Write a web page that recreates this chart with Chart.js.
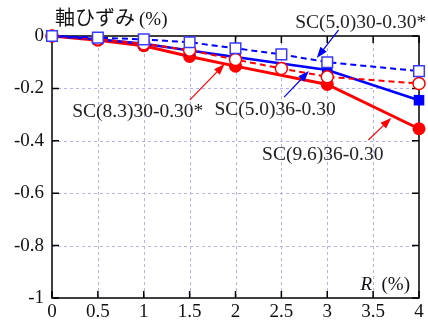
<!DOCTYPE html>
<html>
<head>
<meta charset="utf-8">
<script src="https://cdn.jsdelivr.net/npm/chart.js@4/dist/chart.umd.min.js"></script>
<style>
  html, body { margin: 0; padding: 0; background: #fff; }
  #wrap { width: 428px; height: 322px; }
</style>
</head>
<body>
<div id="wrap"><canvas id="c" width="428" height="322"></canvas></div>
<script>
// Drift ratio R (%) at each measured step
const rValues = [0, 0.5, 1, 1.5, 2, 2.5, 3, 4];

// Axial strain (%) for each specimen (null = no reading at that step)
const sc50_30 = [0, -0.006, -0.013, -0.024, -0.047, -0.070, -0.100, -0.134];
const sc50_36 = [0, -0.012, -0.030, -0.055, -0.080, null, -0.130, -0.245];
const sc83_30 = [0, -0.012, -0.030, -0.054, -0.090, -0.124, -0.156, -0.181];
const sc96_36 = [0, -0.016, -0.037, -0.078, -0.115, null, -0.185, -0.354];

// Tick values
const xTicks = [0, 0.5, 1, 1.5, 2, 2.5, 3, 3.5, 4];
const yTicks = [0, -0.2, -0.4, -0.6, -0.8, -1];

const BLUE = '#0000ff';
const RED = '#ff0000';
const SERIF = '"Liberation Serif", "Times New Roman", serif';

// Callouts: label text, label anchor and arrow tail/head, all in data units
const callouts = [
  { text: 'SC(5.0)30-0.30*', color: BLUE, tx: 2.65, ty: 0.05,  from: [3.124, 0.023],  to: [2.886, -0.084] },
  { text: 'SC(5.0)36-0.30',  color: BLUE, tx: 1.77, ty: -0.282, from: [2.530, -0.233], to: [2.800, -0.134] },
  { text: 'SC(8.3)30-0.30*', color: RED,  tx: 0.22, ty: -0.290, from: [1.503, -0.244], to: [1.881, -0.107] },
  { text: 'SC(9.6)36-0.30',  color: RED,  tx: 2.29, ty: -0.454, from: [3.449, -0.397], to: [3.697, -0.313] }
];

function pts(values) {
  return rValues.map((x, i) => ({ x: x, y: values[i] }));
}

// Grid, frame and inward ticks, drawn beneath the data
const framePlugin = {
  id: 'frame',
  beforeDatasetsDraw(chart) {
    const { ctx, chartArea: a, scales: { x, y } } = chart;
    ctx.save();
    ctx.strokeStyle = '#b4b4f4';
    ctx.lineWidth = 1;
    ctx.setLineDash([3, 3]);
    xTicks.slice(1, -1).forEach(v => {
      const px = Math.round(x.getPixelForValue(v)) + 0.5;
      ctx.beginPath(); ctx.moveTo(px, a.top); ctx.lineTo(px, a.bottom); ctx.stroke();
    });
    yTicks.slice(1, -1).forEach(v => {
      const py = Math.round(y.getPixelForValue(v)) + 0.5;
      ctx.beginPath(); ctx.moveTo(a.left, py); ctx.lineTo(a.right, py); ctx.stroke();
    });
    ctx.setLineDash([]);
    ctx.strokeStyle = '#000';
    ctx.lineWidth = 1.5;
    ctx.strokeRect(a.left, a.top, a.right - a.left, a.bottom - a.top);
    const t = 7;
    ctx.beginPath();
    xTicks.forEach(v => {
      const px = x.getPixelForValue(v);
      ctx.moveTo(px, a.bottom); ctx.lineTo(px, a.bottom - t);
      ctx.moveTo(px, a.top); ctx.lineTo(px, a.top + t);
    });
    yTicks.forEach(v => {
      const py = y.getPixelForValue(v);
      ctx.moveTo(a.left, py); ctx.lineTo(a.left + t, py);
      ctx.moveTo(a.right, py); ctx.lineTo(a.right - t, py);
    });
    ctx.stroke();
    ctx.restore();
  },
  afterDatasetsDraw(chart) {
    const { ctx, chartArea: a, scales: { x, y } } = chart;
    ctx.save();
    // axis titles
    ctx.fillStyle = '#111';
    ctx.textBaseline = 'alphabetic';
    ctx.textAlign = 'left';
    ctx.font = '20px "Noto Sans CJK JP", sans-serif';
    ctx.fillText('軸ひずみ', 55, 25);
    const w = ctx.measureText('軸ひずみ').width;
    ctx.font = '19px ' + SERIF;
    ctx.fillText('(%)', 55 + w + 4, 25);

    ctx.textAlign = 'right';
    ctx.font = '19px ' + SERIF;
    const pct = '(%)';
    ctx.fillText(pct, 410, 290);
    const pw = ctx.measureText('  ' + pct).width;
    ctx.font = 'italic 19px ' + SERIF;
    ctx.fillText('R', 410 - pw, 290);

    // callouts
    callouts.forEach(c => {
      const x1 = x.getPixelForValue(c.from[0]), y1 = y.getPixelForValue(c.from[1]);
      const x2 = x.getPixelForValue(c.to[0]), y2 = y.getPixelForValue(c.to[1]);
      const ang = Math.atan2(y2 - y1, x2 - x1);
      const hl = 11, hw = 4;
      ctx.strokeStyle = c.color;
      ctx.fillStyle = c.color;
      ctx.lineWidth = 1.2;
      ctx.beginPath();
      ctx.moveTo(x1, y1);
      ctx.lineTo(x2 - Math.cos(ang) * hl * 0.8, y2 - Math.sin(ang) * hl * 0.8);
      ctx.stroke();
      ctx.beginPath();
      ctx.moveTo(x2, y2);
      ctx.lineTo(x2 - Math.cos(ang) * hl - Math.sin(ang) * hw, y2 - Math.sin(ang) * hl + Math.cos(ang) * hw);
      ctx.lineTo(x2 - Math.cos(ang) * hl + Math.sin(ang) * hw, y2 - Math.sin(ang) * hl - Math.cos(ang) * hw);
      ctx.closePath();
      ctx.fill();

      ctx.fillStyle = '#222';
      ctx.textAlign = 'left';
      ctx.textBaseline = 'middle';
      ctx.font = '19.5px ' + SERIF;
      ctx.fillText(c.text, x.getPixelForValue(c.tx), y.getPixelForValue(c.ty));
    });
    ctx.restore();
  }
};

new Chart(document.getElementById('c'), {
  type: 'line',
  data: {
    datasets: [
      {
        label: 'SC(5.0)30-0.30*', data: pts(sc50_30), order: 0, clip: false,
        borderColor: BLUE, borderWidth: 2, borderDash: [6, 4],
        pointStyle: 'rect', pointRadius: 7.5, pointBackgroundColor: '#fff',
        pointBorderColor: '#3a3aff', pointBorderWidth: 1.5, spanGaps: true
      },
      {
        label: 'SC(8.3)30-0.30*', data: pts(sc83_30), order: 1, clip: false,
        borderColor: RED, borderWidth: 2, borderDash: [6, 4],
        pointStyle: 'circle', pointRadius: 6, pointBackgroundColor: '#fff',
        pointBorderColor: RED, pointBorderWidth: 1.5, spanGaps: true
      },
      {
        label: 'SC(5.0)36-0.30', data: pts(sc50_36), order: 2, clip: false,
        borderColor: BLUE, borderWidth: 2.5,
        pointStyle: 'rect', pointRadius: 7.5, pointBackgroundColor: BLUE,
        pointBorderColor: BLUE, pointBorderWidth: 0, spanGaps: true
      },
      {
        label: 'SC(9.6)36-0.30', data: pts(sc96_36), order: 3, clip: false,
        borderColor: RED, borderWidth: 3,
        pointStyle: 'circle', pointRadius: 6.5, pointBackgroundColor: RED,
        pointBorderColor: RED, pointBorderWidth: 0, spanGaps: true
      }
    ]
  },
  options: {
    responsive: false,
    animation: false,
    events: [],
    layout: { padding: { top: 36, right: 6, left: 0, bottom: 0 } },
    plugins: { legend: { display: false }, tooltip: { enabled: false } },
    scales: {
      x: {
        type: 'linear', min: 0, max: 4,
        afterBuildTicks: s => { s.ticks = xTicks.map(v => ({ value: v })); },
        afterFit: s => { s.height = 24; },
        grid: { display: false, drawTicks: false },
        border: { display: false },
        ticks: {
          padding: 3, color: '#111', maxRotation: 0, autoSkip: false,
          font: { family: SERIF, size: 19 },
          callback: v => String(Math.round(v * 10) / 10)
        }
      },
      y: {
        type: 'linear', min: -1, max: 0,
        afterBuildTicks: s => { s.ticks = yTicks.map(v => ({ value: v })); },
        afterFit: s => { s.width = 52; },
        grid: { display: false, drawTicks: false },
        border: { display: false },
        ticks: {
          padding: 8, color: '#111', autoSkip: false,
          font: { family: SERIF, size: 19 },
          callback: v => String(Math.round(v * 10) / 10)
        }
      }
    }
  },
  plugins: [framePlugin]
});
</script>
</body>
</html>
